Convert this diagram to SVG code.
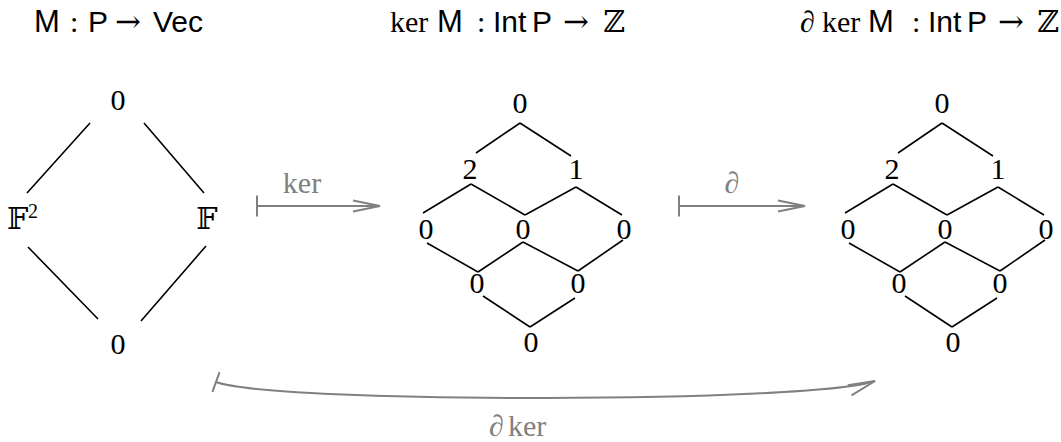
<svg xmlns="http://www.w3.org/2000/svg" width="1061" height="442" viewBox="0 0 1061 442">
<style>
.t{font-family:"Liberation Serif","DejaVu Serif","DejaVu Sans",serif;font-size:30px;fill:#000}
.s{font-family:"Liberation Sans","DejaVu Sans",sans-serif}
.ar{font-family:"DejaVu Serif","DejaVu Sans",serif;font-size:31px}
.n{font-family:"Liberation Serif","DejaVu Serif","DejaVu Sans",serif;font-size:30px;text-anchor:middle;fill:#000}
.e{stroke:#000;stroke-width:1.6;fill:none}
.a{stroke:#808080;stroke-width:2;fill:none}
.g{fill:#808080}
</style>
<defs>
<marker id="chev" markerUnits="userSpaceOnUse" viewBox="-30 -8 34 16" refX="0" refY="0" markerWidth="34" markerHeight="16" orient="auto" overflow="visible">
<path d="M-27,-5.5 L0,0 L-27,5.5" fill="none" stroke="#808080" stroke-width="2"/>
</marker>
<marker id="bar" markerUnits="userSpaceOnUse" viewBox="-4 -12 8 24" refX="0" refY="0" markerWidth="8" markerHeight="24" orient="auto" overflow="visible">
<path d="M0,-10.5 L0,10.5" fill="none" stroke="#808080" stroke-width="2"/>
</marker>
</defs>

<g id="titles">
<text class="t" y="32"><tspan class="s" x="34" font-size="31">M</tspan><tspan x="70">:</tspan><tspan class="s" x="88">P</tspan><tspan class="ar" x="115">→</tspan><tspan class="s" x="153">Vec</tspan></text>
<text class="t" y="32"><tspan x="390">ker</tspan><tspan class="s" x="437" font-size="31">M</tspan><tspan x="477">:</tspan><tspan class="s" x="493">Int</tspan><tspan class="s" x="532">P</tspan><tspan class="ar" x="563">→</tspan><tspan x="603">ℤ</tspan></text>
<text class="t" y="32"><tspan x="800">∂</tspan><tspan x="822">ker</tspan><tspan class="s" x="868" font-size="31">M</tspan><tspan x="912">:</tspan><tspan class="s" x="928">Int</tspan><tspan class="s" x="967">P</tspan><tspan class="ar" x="998">→</tspan><tspan x="1037">ℤ</tspan></text>
</g>

<g id="connectors">
<path class="e" d="M90,123 L27,193 M144,123 L204,193 M28,247 L98,319 M206,246 L141,321"/>
<path class="e" d="M520,123 L476,153 M520,123 L571,156 M471,184 L423,213 M471,184 L525,215 M576,187 L525,215 M576,187 L622,215 M427,243 L478,272 M523,242 L478,272 M523,242 L578,271 M623,240 L578,271 M483,296 L530,327 M575,298 L530,327"/>
<path class="e" d="M942,123 L898,153 M942,123 L993,156 M893,184 L845,213 M893,184 L947,215 M998,187 L947,215 M998,187 L1044,215 M849,243 L900,272 M945,242 L900,272 M945,242 L1000,271 M1045,240 L1000,271 M905,296 L952,327 M997,298 L952,327"/>
<g id="map-ker">
<path class="a" d="M257,206 L380,206" marker-start="url(#bar)" marker-end="url(#chev)"/>
<text class="n g" x="302" y="193">ker</text>
</g>
<g id="map-boundary">
<path class="a" d="M679,206 L805,206" marker-start="url(#bar)" marker-end="url(#chev)"/>
<text class="n g" x="732" y="193">∂</text>
</g>
<g id="map-boundary-ker">
<path class="a" d="M216,382 C277,404 815,403 875,381" marker-start="url(#bar)" marker-end="url(#chev)"/>
<text class="t g" y="436"><tspan x="489">∂</tspan><tspan x="508">ker</tspan></text>
</g>
</g>

<g id="node-M-top"><text class="n" x="118" y="110">0</text></g>
<g id="node-M-F2"><text class="t" y="229"><tspan x="7">𝔽</tspan><tspan x="28" y="218" font-size="20">2</tspan></text></g>
<g id="node-M-F"><text class="n" x="207" y="229">𝔽</text></g>
<g id="node-M-bot"><text class="n" x="118" y="354">0</text></g>

<g id="node-k-top"><text class="n" x="520" y="113">0</text></g>
<g id="node-k-2"><text class="n" x="470" y="179">2</text></g>
<g id="node-k-1"><text class="n" x="576" y="179">1</text></g>
<g id="node-k-a"><text class="n" x="426" y="239">0</text></g>
<g id="node-k-b"><text class="n" x="523" y="239">0</text></g>
<g id="node-k-c"><text class="n" x="624" y="239">0</text></g>
<g id="node-k-d"><text class="n" x="477" y="293">0</text></g>
<g id="node-k-e"><text class="n" x="578" y="293">0</text></g>
<g id="node-k-bot"><text class="n" x="531" y="352">0</text></g>

<g id="node-d-top"><text class="n" x="942" y="113">0</text></g>
<g id="node-d-2"><text class="n" x="892" y="179">2</text></g>
<g id="node-d-1"><text class="n" x="998" y="179">1</text></g>
<g id="node-d-a"><text class="n" x="848" y="239">0</text></g>
<g id="node-d-b"><text class="n" x="945" y="239">0</text></g>
<g id="node-d-c"><text class="n" x="1046" y="239">0</text></g>
<g id="node-d-d"><text class="n" x="899" y="293">0</text></g>
<g id="node-d-e"><text class="n" x="1000" y="293">0</text></g>
<g id="node-d-bot"><text class="n" x="953" y="352">0</text></g>
</svg>
